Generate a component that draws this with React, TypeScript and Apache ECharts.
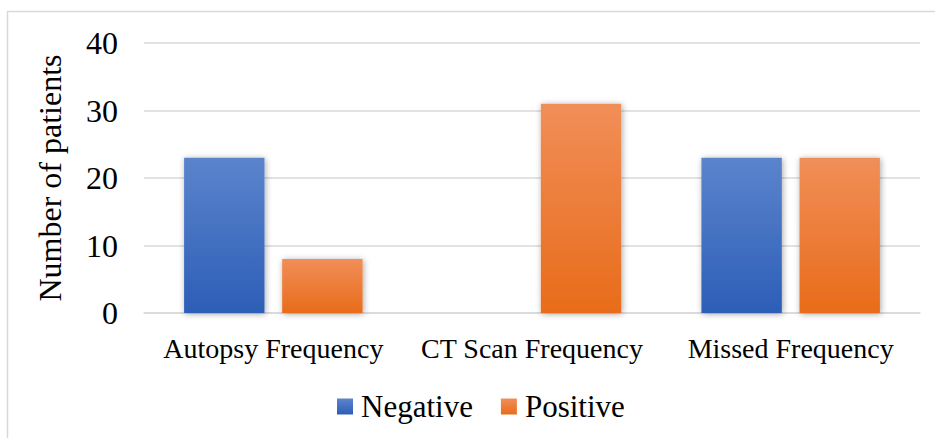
import React, { useEffect, useRef } from "react";
import * as echarts from "echarts";

const categories = ["Autopsy Frequency", "CT Scan Frequency", "Missed Frequency"];
const negativeValues = [23, 0, 23];
const positiveValues = [8, 31, 23];
const yTicks = [0, 10, 20, 30, 40];

const FONT = "Liberation Serif";

export default function App() {
  const ref = useRef<HTMLDivElement>(null);
  useEffect(() => {
    if (!ref.current) return;
    const chart = echarts.init(ref.current, undefined, { renderer: "svg" });
    const grad = (top: string, bottom: string) =>
      new echarts.graphic.LinearGradient(0, 0, 0, 1, [
        { offset: 0, color: top },
        { offset: 1, color: bottom },
      ]);
    chart.setOption({
      animation: false,
      backgroundColor: "#ffffff",
      graphic: [
        {
          type: "rect",
          shape: { x: 7.5, y: 11.5, width: 1000, height: 1000 },
          style: { fill: "none", stroke: "#d9d9d9", lineWidth: 1.5 },
          silent: true,
        },
      ],
      grid: { left: 144, right: 15, top: 43, bottom: 125 },
      legend: {
        data: ["Negative", "Positive"],
        left: 332,
        top: 386,
        itemWidth: 16,
        itemHeight: 16,
        itemGap: 28,
        icon: "rect",
        textStyle: {
          fontFamily: FONT,
          fontSize: 31,
          color: "#000",
          padding: [0, 0, 0, 3],
        },
      },
      xAxis: {
        type: "category",
        data: categories,
        axisLine: { lineStyle: { color: "#d9d9d9", width: 1.5 } },
        axisTick: { show: false },
        axisLabel: {
          interval: 0,
          fontFamily: FONT,
          fontSize: 28,
          color: "#000",
          margin: 21,
        },
      },
      yAxis: {
        type: "value",
        min: yTicks[0],
        max: yTicks[yTicks.length - 1],
        interval: 10,
        name: "Number of patients",
        nameLocation: "middle",
        nameGap: 78,
        nameTextStyle: { fontFamily: FONT, fontSize: 32, color: "#000" },
        axisLine: { show: false },
        axisTick: { show: false },
        axisLabel: { fontFamily: FONT, fontSize: 32, color: "#000", margin: 26 },
        splitLine: { lineStyle: { color: "#d9d9d9", width: 1.5 } },
      },
      series: [
        {
          name: "Negative",
          type: "bar",
          data: negativeValues,
          barGap: "22%",
          barCategoryGap: "31%",
          itemStyle: {
            color: grad("#5b84cc", "#2d5eb7"),
            shadowColor: "rgba(0,0,0,0.35)",
            shadowBlur: 6,
            shadowOffsetX: 1,
            shadowOffsetY: 1,
          },
        },
        {
          name: "Positive",
          type: "bar",
          data: positiveValues,
          itemStyle: {
            color: grad("#f18e58", "#e86c1a"),
            shadowColor: "rgba(0,0,0,0.35)",
            shadowBlur: 6,
            shadowOffsetX: 1,
            shadowOffsetY: 1,
          },
        },
      ],
    });
    return () => chart.dispose();
  }, []);
  return (
    <div
      ref={ref}
      style={{ position: "fixed", left: 0, top: 0, width: 935, height: 438 }}
    />
  );
}
